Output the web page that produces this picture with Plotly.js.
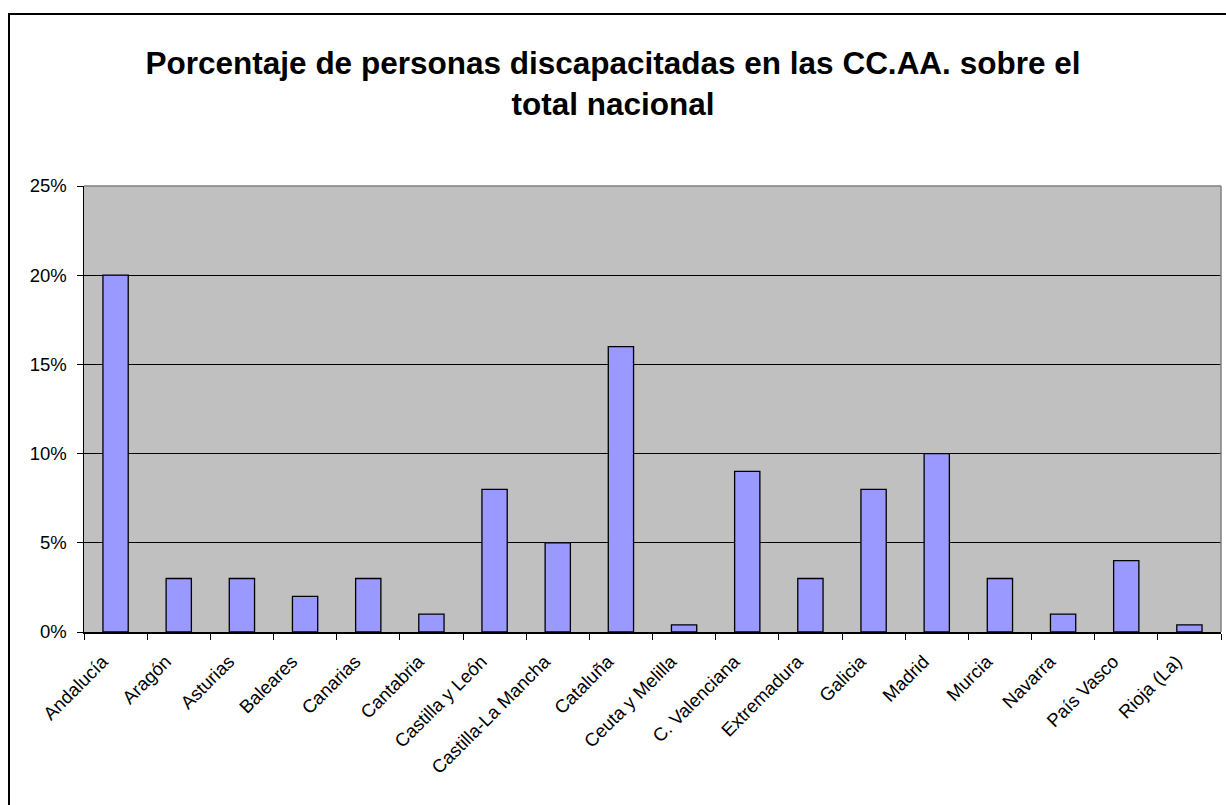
<!DOCTYPE html>
<html>
<head>
<meta charset="utf-8">
<script src="https://cdn.plot.ly/plotly-3.0.1.min.js"></script>
<style>
html,body{margin:0;padding:0;background:#fff;}
#wrap{position:relative;width:1226px;height:805px;overflow:hidden;}
#chart{width:1226px;height:805px;}
#frame{position:absolute;left:8px;top:13px;width:1240px;height:820px;border:2px solid #000;pointer-events:none;}
</style>
</head>
<body>
<div id="wrap">
<div id="chart"></div>
<div id="frame"></div>
</div>
<script>
const categories = ["Andalucía","Aragón","Asturias","Baleares","Canarias","Cantabria","Castilla y León","Castilla-La Mancha","Cataluña","Ceuta y Melilla","C. Valenciana","Extremadura","Galicia","Madrid","Murcia","Navarra","País Vasco","Rioja (La)"];
const values = [0.20,0.03,0.03,0.02,0.03,0.01,0.08,0.05,0.16,0.004,0.09,0.03,0.08,0.10,0.03,0.01,0.04,0.004];
const yTickVals = [0,0.05,0.10,0.15,0.20,0.25];
const yTickText = ["0%","5%","10%","15%","20%","25%"];
const titleText = "Porcentaje de personas discapacitadas en las CC.AA. sobre el<br>total nacional";

const trace = {
  type: "bar",
  x: categories,
  y: values,
  marker: {color: "#9999FF", line: {color: "#000000", width: 1.3}},
  hoverinfo: "skip"
};

const FONT = "Liberation Sans, Arial, sans-serif";
const layout = {
  width: 1226, height: 805,
  margin: {l: 84, r: 5, t: 186, b: 173},
  paper_bgcolor: "#ffffff",
  plot_bgcolor: "#C0C0C0",
  bargap: 0.6,
  showlegend: false,
  font: {family: FONT, color: "#000", size: 18},
  title: {
    text: titleText,
    font: {family: FONT, size: 31.5, color: "#000", weight: "bold"},
    x: 0.5, xref: "container", xanchor: "center",
    y: 1 - 74/805, yref: "container", yanchor: "top"
  },
  xaxis: {
    type: "category",
    tickangle: -45,
    ticks: "outside", tickson: "boundaries", ticklen: 6, tickcolor: "#000", tickwidth: 1,
    ticklabelstandoff: 10, ticklabelshift: -13,
    showline: true, linecolor: "#000", linewidth: 1.5,
    showgrid: false,
    tickfont: {size: 18.5, family: FONT},
    fixedrange: true
  },
  yaxis: {
    range: [0, 0.25],
    tickvals: yTickVals, ticktext: yTickText,
    ticks: "outside", ticklen: 6, tickcolor: "#000", tickwidth: 1,
    ticklabelstandoff: 6,
    showline: true, linecolor: "#000", linewidth: 1.5,
    showgrid: true, gridcolor: "#000", gridwidth: 1,
    zeroline: false,
    tickfont: {size: 18.5, family: FONT},
    fixedrange: true
  },
  shapes: [
    {type: "line", xref: "paper", yref: "paper", x0: 0, x1: 1, y0: 1, y1: 1, line: {color: "#808080", width: 1.5}},
    {type: "line", xref: "paper", yref: "paper", x0: 1, x1: 1, y0: 0, y1: 1, line: {color: "#808080", width: 1.5}}
  ]
};

Plotly.newPlot("chart", [trace], layout, {displayModeBar: false, staticPlot: true});
</script>
</body>
</html>
